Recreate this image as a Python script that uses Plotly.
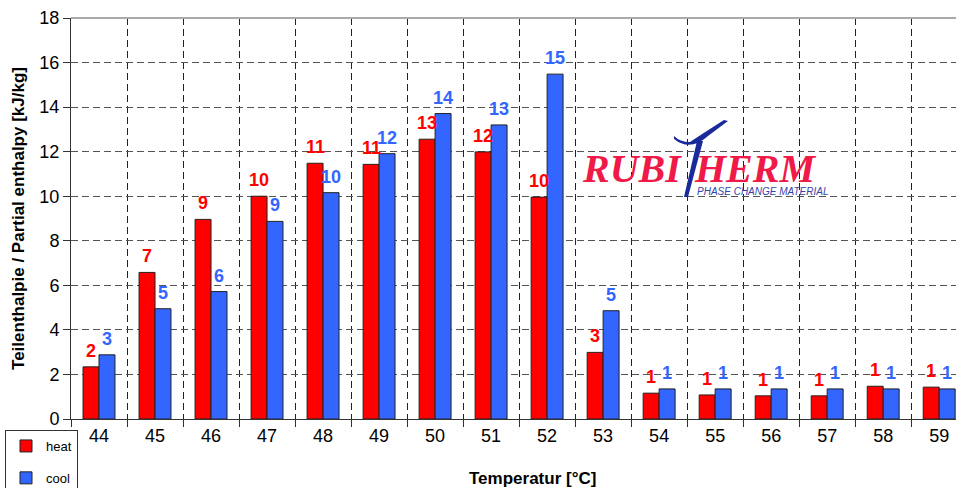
import plotly.graph_objects as go

categories = ["44", "45", "46", "47", "48", "49", "50", "51", "52", "53", "54", "55", "56", "57", "58", "59"]
heat = [2.34, 6.58, 8.96, 10.0, 11.48, 11.43, 12.56, 11.99, 9.96, 2.99, 1.16, 1.08, 1.04, 1.04, 1.47, 1.43]
cool = [2.88, 4.95, 5.72, 8.87, 10.16, 11.91, 13.71, 13.2, 15.48, 4.86, 1.35, 1.35, 1.35, 1.35, 1.35, 1.35]
heat_labels = ["2", "7", "9", "10", "11", "11", "13", "12", "10", "3", "1", "1", "1", "1", "1", "1"]
cool_labels = ["3", "5", "6", "9", "10", "12", "14", "13", "15", "5", "1", "1", "1", "1", "1", "1"]

W, H = 956, 488
L, R, T, B = 71, 0, 18, 69
PW, PH = W - L - R, H - T - B


def px(x):
    return (x - L) / PW


def py(y):
    return (H - B - y) / PH


FONT = "Liberation Sans, Arial, sans-serif"
RED = "#ff0000"
BLUE = "#3366ff"

fig = go.Figure()
fig.add_trace(go.Bar(
    name="heat", x=categories, y=heat,
    marker=dict(color=RED, line=dict(color="#222222", width=1)),
    legendgroup="h",
))
fig.add_trace(go.Bar(
    name="cool", x=categories, y=cool,
    marker=dict(color=BLUE, line=dict(color="#222222", width=1)),
    legendgroup="c",
))

# value labels above bars (category axes take the category index for annotations)
for i, (v, lab) in enumerate(zip(heat, heat_labels)):
    fig.add_annotation(x=i, y=v, text=f"<b>{lab}</b>", showarrow=False,
                       xanchor="center", yanchor="bottom", xshift=-8, yshift=4,
                       font=dict(size=18, family=FONT, color=RED))
for i, (v, lab) in enumerate(zip(cool, cool_labels)):
    fig.add_annotation(x=i, y=v, text=f"<b>{lab}</b>", showarrow=False,
                       xanchor="center", yanchor="bottom", xshift=8, yshift=4,
                       font=dict(size=18, family=FONT, color=BLUE))

fig.update_layout(
    width=W, height=H,
    margin=dict(l=L, r=R, t=T, b=B, autoexpand=False),
    paper_bgcolor="white", plot_bgcolor="white",
    barmode="group", bargap=0.43, bargroupgap=0,
    font=dict(family=FONT, color="black"),
    legend=dict(
        x=px(5), y=py(430), xanchor="left", yanchor="top",
        bordercolor="#333333", borderwidth=1, bgcolor="white",
        font=dict(size=13, family=FONT), tracegroupgap=12,
        itemwidth=30,
    ),
    xaxis=dict(
        type="category", range=[-0.5, 15.3], tickson="boundaries",
        automargin=False,
        showgrid=True, gridcolor="#222222", griddash="7px,4px", gridwidth=1,
        ticks="outside", ticklen=7, tickcolor="#333333",
        showline=True, linecolor="#333333", linewidth=1,
        tickfont=dict(size=18, family=FONT, color="black"),
    ),
    yaxis=dict(
        range=[0, 18], dtick=2, tick0=0, automargin=False,
        showgrid=True, gridcolor="#555555", griddash="7px,4px", gridwidth=1,
        ticks="outside", ticklen=7, tickcolor="#333333",
        showline=True, linecolor="#333333", linewidth=1,
        tickfont=dict(size=18, family=FONT, color="black"),
        zeroline=False,
        title=dict(text="Teilenthalpie / Partial enthalpy [kJ/kg]",
                   font=dict(size=17, family=FONT, weight="bold"), standoff=10),
    ),
)

# top border
fig.add_shape(type="line", xref="paper", yref="paper", x0=0, x1=1, y0=1, y1=1,
              line=dict(color="#aaaaaa", width=2))

# x-axis title
fig.add_annotation(text="<b>Temperatur [°C]</b>", xref="paper", yref="paper",
                   x=px(532), y=py(478), xanchor="center", yanchor="middle",
                   showarrow=False, font=dict(size=17, family=FONT, color="black"))

# Logo (decoration)
LOGO_RED = "#f01a48"
LOGO_BLUE = "#1a2a9a"
SERIF = "Liberation Serif, Times New Roman, serif"
fig.add_annotation(text="<b><i>RUBI</i></b>", xref="paper", yref="paper",
                   x=px(684), y=py(168), xanchor="right", yanchor="middle",
                   showarrow=False, font=dict(size=40, family=SERIF, color=LOGO_RED))
fig.add_annotation(text="<b><i>HERM</i></b>", xref="paper", yref="paper",
                   x=px(692), y=py(168), xanchor="left", yanchor="middle",
                   showarrow=False, font=dict(size=40, family=SERIF, color=LOGO_RED))
fig.add_annotation(text="<i>PHASE CHANGE MATERIAL</i>", xref="paper", yref="paper",
                   x=px(695), y=py(192), xanchor="left", yanchor="middle",
                   showarrow=False, font=dict(size=10, family=FONT, color="#3344aa"))


def pt(x, y):
    return f"{px(x):.5f},{py(y):.5f}"


stem = f"M {pt(684,197)} L {pt(688,197)} L {pt(703,141)} L {pt(697,141)} Z"
swoosh = (f"M {pt(674,139)} Q {pt(690,152)} {pt(708,136)} L {pt(728,121)} "
          f"L {pt(724,120)} Q {pt(702,134)} {pt(690,142)} Q {pt(680,142)} {pt(674,136)} Z")
fig.add_shape(type="path", xref="paper", yref="paper", path=stem,
              fillcolor=LOGO_BLUE, line=dict(width=0))
fig.add_shape(type="path", xref="paper", yref="paper", path=swoosh,
              fillcolor=LOGO_BLUE, line=dict(width=0))

fig.write_html(
    "out.html",
    config={"displayModeBar": False},
    post_script="document.body.style.margin='0px';document.body.style.overflow='hidden';",
)
